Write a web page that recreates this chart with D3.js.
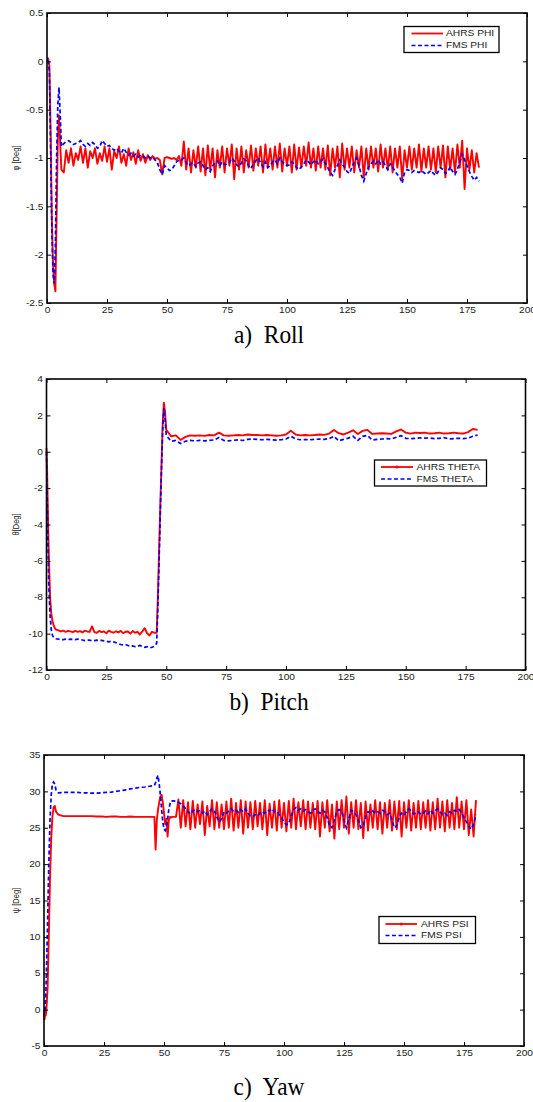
<!DOCTYPE html>
<html>
<head>
<meta charset="utf-8">
<script src="https://cdn.jsdelivr.net/npm/d3@7"></script>
<style>
  body { margin: 0; background: #fff; }
  svg { display: block; font-family: "Liberation Sans", Arial, sans-serif; }
</style>
</head>
<body>
<svg id="chart" width="533" height="1102"></svg>
<script>
// ---- data (time in s, angles in deg) ----
var xTicks = [0, 25, 50, 75, 100, 125, 150, 175, 200];
var rollTicks = [-2.5, -2, -1.5, -1, -0.5, 0, 0.5];
var pitchTicks = [-12, -10, -8, -6, -4, -2, 0, 2, 4];
var yawTicks = [-5, 0, 5, 10, 15, 20, 25, 30, 35];

// roll
var tRoll = [0, 0.5, 1, 1.5, 2, 2.5, 3, 3.5, 4, 4.5, 5, 5.5, 6].concat(d3.range(7, 181));
var rollAhrs = [0.03, 0.03, -0.05, -0.7, -1.6, -2.1, -2.3, -2.38, -1.6, -0.8, -0.56, -0.85, -1.12,
  -1.15, -0.92, -1.05, -0.9, -1.08, -0.95, -1.02, -0.88, -1.05, -0.9,
  -1.1, -0.93, -1.0, -0.9, -1.06, -0.95, -1.03, -0.88, -1.04, -0.9,
  -1.12, -0.93, -1.0, -0.88, -1.05, -0.96, -1.08, -0.9, -1.02, -0.94,
  -1.06, -0.92, -1.03, -0.96, -1.05, -0.97, -1.02, -0.98, -1.01,
  -1.0, -1.02, -1.17, -1.0, -0.99, -1.0, -1.01, -1.0, -1.02, -0.98,
  -1.08, -0.83, -1.12, -0.9, -1.15, -0.92, -1.1, -0.88, -1.14, -0.9,
  -1.18, -0.87, -1.12, -0.9, -1.2, -0.92, -1.1, -0.88, -1.15, -0.9,
  -1.08, -0.86, -1.22, -0.9, -1.12, -0.88, -1.15, -0.92, -1.1, -0.87,
  -1.13, -0.9, -1.08, -0.88, -1.15, -0.86, -1.1, -0.9, -1.12, -0.88,
  -1.1, -0.85, -1.14, -0.9, -1.08, -0.88, -1.15, -0.86, -1.12, -0.89,
  -1.1, -0.88, -1.08, -0.84, -1.1, -0.9, -1.13, -0.88, -1.1, -0.9,
  -1.12, -0.87, -1.18, -0.9, -1.1, -0.88, -1.2, -0.85, -1.12, -0.9,
  -1.1, -0.88, -1.15, -0.92, -1.1, -0.88, -1.2, -0.9, -1.12, -0.88,
  -1.1, -0.9, -1.14, -0.86, -1.1, -0.9, -1.12, -0.88, -1.15, -0.9,
  -1.1, -0.88, -1.22, -0.92, -1.1, -0.88, -1.12, -0.9, -1.1, -0.86,
  -1.14, -0.9, -1.1, -0.88, -1.12, -0.9, -1.15, -0.88, -1.1, -0.87,
  -1.2, -0.88, -1.12, -0.9, -1.15, -0.86, -1.1, -0.82, -1.32, -0.9,
  -1.12, -0.92, -1.15, -0.95, -1.1];
var rollFms = [0, 0, -0.1, -0.9, -1.7, -2.2, -2.3, -1.9, -1.0, -0.45, -0.27, -0.55, -0.88,
  -0.85, -0.83, -0.82, -0.84, -0.86, -0.85, -0.84, -0.82, -0.86, -0.88,
  -0.85, -0.87, -0.84, -0.86, -0.9, -0.88, -0.82, -0.85, -0.88, -0.87,
  -0.9, -0.92, -0.9, -0.93, -0.95, -0.9, -0.94, -0.97, -0.95, -0.98,
  -0.96, -0.99, -0.97, -0.98, -1.0, -0.98, -1.0, -0.99, -1.02,
  -1.05, -1.12, -1.17, -1.08, -1.1, -1.13, -1.12, -1.08, -1.04, -1.02,
  -1.02, -1.0, -1.05, -1.08, -1.06, -1.05, -1.09, -1.05, -1.04, -1.08,
  -1.12, -1.1, -1.14, -1.08, -1.05, -1.03, -1.08, -1.04, -1.07, -1.06,
  -1.05, -1.0, -1.03, -1.07, -1.09, -1.05, -1.01, -1.03, -1.08, -1.11,
  -1.06, -1.03, -1.0, -1.05, -1.09, -1.04, -1.1, -1.08, -1.04, -1.02,
  -1.06, -1.0, -1.04, -1.06, -1.08, -1.07, -1.04, -1.06, -1.1, -1.12,
  -1.09, -1.06, -1.02, -1.04, -1.07, -1.04, -1.02, -1.06, -1.04, -1.01,
  -1.06, -1.1, -1.15, -1.18, -1.12, -1.08, -1.02, -1.06, -1.1, -1.14,
  -1.16, -1.1, -1.04, -1.0, -1.08, -1.18, -1.24, -1.16, -1.09, -1.06,
  -1.03, -1.06, -1.02, -1.06, -1.04, -1.08, -1.12, -1.06, -1.09, -1.14,
  -1.17, -1.2, -1.26, -1.15, -1.12, -1.13, -1.15, -1.13, -1.14, -1.15,
  -1.13, -1.15, -1.17, -1.15, -1.13, -1.16, -1.18, -1.14, -1.1, -1.12,
  -1.16, -1.14, -1.09, -1.14, -1.17, -1.12, -1.04, -0.96, -1.02, -1.08,
  -1.14, -1.19, -1.23, -1.2, -1.24];

// pitch
var tPitch = [0, 0.25, 0.5, 0.75, 1, 1.5, 2, 2.5, 3, 3.5, 4]
  .concat(d3.range(5, 46))
  .concat([45.5, 46, 46.5, 47, 47.5, 48, 48.5, 49, 49.5])
  .concat(d3.range(50, 181, 2));
var pitchAhrs = [0.2, -1.0, -2.8, -4.5, -5.8, -8.0, -8.9, -9.3, -9.55, -9.7, -9.78,
  -9.82, -9.88, -9.84, -9.9, -9.85, -9.88, -9.92, -9.85, -9.9, -9.86,
  -9.93, -9.84, -9.88, -9.9, -9.6, -9.92, -9.95, -9.85, -9.92, -9.88,
  -9.98, -9.84, -9.9, -9.95, -9.87, -9.93, -9.85, -9.97, -9.9, -9.88,
  -10.0, -9.86, -9.95, -9.9, -10.05, -9.88, -9.7, -9.98, -10.1, -9.9,
  -9.95,
  -9.95, -9.95, -8.0, -5.5, -3.0, -0.8, 1.5, 2.7, 2.2,
  1.2, 0.85, 0.9, 0.65, 0.82, 0.9, 0.88, 0.9, 0.87, 0.92,
  0.9, 1.05, 0.9, 0.88, 0.9, 0.92, 0.9, 0.95, 0.92, 0.93,
  0.9, 0.92, 0.9, 0.88, 0.9, 0.95, 1.15, 0.95, 0.9, 0.92,
  0.9, 0.92, 0.95, 0.93, 1.0, 1.2, 1.02, 0.95, 1.05, 1.18,
  0.98, 1.15, 1.2, 0.98, 1.0, 1.02, 1.0, 0.98, 1.12, 1.22,
  1.05, 1.0, 1.05, 1.03, 1.05, 1.0, 1.02, 1.05, 1.0, 1.02,
  1.05, 1.02, 1.0, 1.08, 1.25, 1.2];
var pitchFms = [0.0, -2.0, -4.2, -6.0, -7.5, -9.0, -9.8, -10.1, -10.2, -10.25, -10.28,
  -10.3, -10.32, -10.33, -10.3, -10.33, -10.3, -10.32, -10.33, -10.3, -10.32,
  -10.35, -10.38, -10.36, -10.35, -10.4, -10.38, -10.36, -10.38, -10.37, -10.4,
  -10.42, -10.45, -10.42, -10.45, -10.5, -10.55, -10.6, -10.62, -10.6, -10.65,
  -10.7, -10.68, -10.72, -10.7, -10.65, -10.7, -10.75, -10.72, -10.78, -10.75,
  -10.7,
  -10.6, -10.55, -8.5, -6.0, -3.5, -1.0, 1.2, 2.4, 1.8,
  0.9, 0.58, 0.62, 0.45, 0.58, 0.62, 0.6, 0.62, 0.6, 0.63,
  0.65, 0.78, 0.62, 0.6, 0.63, 0.65, 0.62, 0.68, 0.7, 0.68,
  0.66, 0.68, 0.66, 0.64, 0.66, 0.7, 0.85, 0.7, 0.66, 0.67,
  0.66, 0.68, 0.7, 0.68, 0.72, 0.85, 0.6, 0.68, 0.75, 0.85,
  0.62, 0.85, 0.9, 0.65, 0.68, 0.7, 0.72, 0.7, 0.8, 0.88,
  0.74, 0.72, 0.74, 0.76, 0.75, 0.76, 0.72, 0.74, 0.78, 0.7,
  0.72, 0.74, 0.72, 0.75, 0.85, 0.92];

// yaw
var tYaw = [0, 0.25, 0.5, 0.75, 1, 1.5, 2, 2.5, 3, 3.5, 4, 4.5, 5]
  .concat(d3.range(6, 47, 2))
  .concat([46.5, 47, 47.5, 48, 48.5, 49, 49.5, 50, 50.5, 51, 51.5, 52, 52.5, 53, 53.5])
  .concat(d3.range(54, 181));
var yawAhrs = [-0.5, -1.3, 0.2, -0.8, 0.0, 3.0, 10.0, 18.0, 23.5, 26.5, 27.8, 28.0, 27.2,
  26.8, 26.6, 26.6, 26.6, 26.6, 26.6, 26.6, 26.6, 26.55, 26.55, 26.5,
  26.55, 26.55, 26.5, 26.5, 26.55, 26.5, 26.5, 26.5, 26.5, 26.5,
  22.0, 26.0, 27.5, 28.5, 29.3, 29.5, 28.5, 27.0, 25.5, 26.2, 23.8, 26.0, 26.5, 26.4, 26.5,
  26.5, 26.5, 28.9, 25.0, 28.8, 25.2, 28.5, 24.8, 28.7, 25.0,
  28.2, 25.5, 28.6, 24.0, 28.0, 25.2, 28.8, 24.8, 28.5, 25.0,
  28.2, 24.8, 28.6, 25.0, 29.0, 24.6, 28.4, 25.0, 28.8, 24.2,
  28.6, 25.0, 28.5, 24.8, 28.7, 25.2, 28.4, 24.8, 28.8, 24.0,
  28.3, 25.0, 28.6, 24.6, 28.8, 25.0, 28.4, 24.5, 28.7, 25.0,
  29.0, 24.8, 28.5, 25.2, 28.8, 24.8, 28.6, 25.0, 28.4, 24.8,
  28.7, 23.8, 28.5, 25.0, 28.8, 24.5, 28.2, 23.5, 28.6, 24.8,
  28.8, 25.0, 29.3, 24.2, 28.5, 25.0, 28.8, 24.8, 28.4, 23.6,
  28.6, 24.6, 28.2, 25.0, 28.8, 24.8, 28.5, 24.2, 28.4, 25.0,
  28.8, 24.6, 28.6, 24.8, 28.7, 23.8, 28.5, 25.0, 28.8, 24.6,
  28.4, 25.0, 28.7, 24.8, 28.5, 25.0, 28.8, 24.6, 28.5, 24.8,
  29.0, 25.0, 28.6, 24.5, 28.8, 25.0, 28.4, 24.8, 29.2, 25.0,
  28.6, 24.8, 28.8, 24.0, 27.5, 23.8, 28.8];
var yawFms = [0.0, -0.5, 0.5, 2.0, 5.0, 12.0, 20.0, 26.0, 29.5, 31.0, 31.3, 31.0, 30.2,
  29.8, 29.85, 29.85, 29.85, 29.85, 29.8, 29.8, 29.75, 29.75, 29.8, 29.85,
  29.9, 30.0, 30.1, 30.2, 30.35, 30.45, 30.55, 30.6, 30.7, 30.8,
  31.2, 31.8, 32.2, 31.0, 29.5, 27.5, 25.8, 24.8, 24.6, 25.2, 26.2, 27.5, 28.3, 28.7, 28.7,
  28.7, 28.6, 28.5, 28.3, 28.0, 27.6, 27.2, 26.9, 27.3, 27.5,
  27.2, 27.4, 27.0, 27.3, 26.8, 27.2, 27.6, 27.3, 26.5, 25.8,
  26.2, 27.2, 27.0, 27.3, 27.6, 27.2, 27.4, 27.1, 27.5, 27.2,
  27.6, 27.0, 26.6, 26.5, 26.8, 26.6, 27.0, 27.2, 27.0, 27.4,
  27.3, 27.6, 27.2, 27.3, 26.8, 26.4, 25.8, 25.4, 25.6, 26.6,
  27.5, 27.8, 27.4, 27.6, 27.3, 27.5, 27.2, 27.0, 27.4, 27.6,
  27.3, 27.0, 27.4, 27.2, 26.4, 25.2, 25.0, 26.0, 27.3, 27.5,
  27.3, 26.0, 25.0, 26.2, 27.4, 27.2, 26.8, 26.0, 25.0, 25.2,
  26.5, 27.2, 27.0, 27.3, 27.0, 27.2, 27.0, 27.4, 27.2, 26.8,
  27.0, 26.0, 25.0, 25.3, 26.5, 27.0, 26.7, 27.2, 27.6, 27.3,
  26.9, 27.0, 27.2, 26.8, 27.0, 27.3, 26.9, 27.4, 27.0, 27.3,
  27.6, 27.2, 26.8, 27.0, 26.7, 27.2, 27.0, 27.4, 27.2, 27.5,
  27.0, 26.4, 25.8, 25.2, 24.8, 25.5, 26.8];

// ---- drawing ----
var svg = d3.select("#chart");
var SX = 1.2;   // the axes text in the figure is stretched sideways
var RED = "#ff0000", BLUE = "#0000ff";

var panels = [
  { left: 47, right: 527, top: 13, bottom: 303, yDomain: [-2.5, 0.5], yTicks: rollTicks,
    t: tRoll, ahrs: rollAhrs, fms: rollFms, yLabel: "\u03c6 [Deg]",
    names: ["AHRS PHI", "FMS PHI"], dot: false,
    legend: { x: 404, y: 26.5, w: 95, h: 26, lx1: 411.5, lx2: 443, tx: 446, rows: [33.5, 45.5] },
    caption: "a)\u00a0 Roll", capY: 343 },
  { left: 46.5, right: 525.5, top: 379, bottom: 670, yDomain: [-12, 4], yTicks: pitchTicks,
    t: tPitch, ahrs: pitchAhrs, fms: pitchFms, yLabel: "\u03b8[Deg]",
    names: ["AHRS THETA", "FMS THETA"], dot: true,
    legend: { x: 374.5, y: 460, w: 112, h: 26, lx1: 381, lx2: 413, tx: 416.5, rows: [467, 479] },
    caption: "b)\u00a0 Pitch", capY: 710 },
  { left: 44, right: 524, top: 755, bottom: 1046, yDomain: [-5, 35], yTicks: yawTicks,
    t: tYaw, ahrs: yawAhrs, fms: yawFms, yLabel: "\u03c8 [Deg]",
    names: ["AHRS PSI", "FMS PSI"], dot: true,
    legend: { x: 379, y: 916.5, w: 96.5, h: 27, lx1: 385.5, lx2: 417, tx: 421, rows: [924, 935.5] },
    caption: "c)\u00a0 Yaw", capY: 1095 }
];

function widen(sel) {
  sel.attr("transform", function () {
    var x = +d3.select(this).attr("x") || 0;
    return "translate(" + x + ",0) scale(" + SX + ",1) translate(" + (-x) + ",0)";
  });
}

function drawPanel(p) {
  var x = d3.scaleLinear().domain([0, 200]).range([p.left, p.right]);
  var y = d3.scaleLinear().domain(p.yDomain).range([p.bottom, p.top]);
  var g = svg.append("g");
  var line = d3.line().x(function (d) { return x(d[0]); }).y(function (d) { return y(d[1]); });
  var fmt = function (d) { return String(d); };

  g.append("path").datum(d3.zip(p.t, p.ahrs)).attr("d", line)
    .attr("fill", "none").attr("stroke", RED).attr("stroke-width", 1.9)
    .attr("stroke-linejoin", "round");
  g.append("path").datum(d3.zip(p.t, p.fms)).attr("d", line)
    .attr("fill", "none").attr("stroke", BLUE).attr("stroke-width", 1.7)
    .attr("stroke-dasharray", "4,2.5");

  var axes = [
    g.append("g").attr("transform", "translate(0," + p.bottom + ")")
      .call(d3.axisBottom(x).tickValues(xTicks).tickSizeInner(-4).tickSizeOuter(0).tickPadding(4).tickFormat(fmt)),
    g.append("g").attr("transform", "translate(" + p.left + ",0)")
      .call(d3.axisLeft(y).tickValues(p.yTicks).tickSizeInner(-4).tickSizeOuter(0).tickPadding(3.5).tickFormat(fmt)),
    g.append("g").attr("transform", "translate(0," + p.top + ")")
      .call(d3.axisTop(x).tickValues(xTicks).tickSizeInner(-4).tickSizeOuter(0).tickFormat("")),
    g.append("g").attr("transform", "translate(" + p.right + ",0)")
      .call(d3.axisRight(y).tickValues(p.yTicks).tickSizeInner(-4).tickSizeOuter(0).tickFormat(""))
  ];
  axes.forEach(function (a) {
    a.attr("font-family", null).attr("font-size", 8.5);
    a.select(".domain").remove();
    a.selectAll(".tick line").attr("stroke", "#000").attr("stroke-width", 1);
    a.selectAll(".tick text").attr("fill", "#222").call(widen);
  });

  g.append("rect").attr("x", p.left).attr("y", p.top)
    .attr("width", p.right - p.left).attr("height", p.bottom - p.top)
    .attr("fill", "none").attr("stroke", "#000").attr("stroke-width", 1.6);

  g.append("text")
    .attr("transform", "translate(15.5," + ((p.top + p.bottom) / 2) + ") scale(" + SX + ",1) rotate(-90)")
    .attr("text-anchor", "middle").attr("dy", "0.35em")
    .attr("font-size", 7.5).attr("fill", "#222").text(p.yLabel);

  // legend
  var L = p.legend;
  var lg = g.append("g");
  lg.append("rect").attr("x", L.x).attr("y", L.y).attr("width", L.w).attr("height", L.h)
    .attr("fill", "#fff").attr("stroke", "#000").attr("stroke-width", 1.3);
  [RED, BLUE].forEach(function (c, i) {
    var ry = L.rows[i];
    var ln = lg.append("line").attr("x1", L.lx1).attr("x2", L.lx2).attr("y1", ry).attr("y2", ry)
      .attr("stroke", c).attr("stroke-width", c === RED ? 1.8 : 1.7);
    if (c === BLUE) ln.attr("stroke-dasharray", "4,2.5");
    if (c === RED && p.dot) {
      lg.append("circle").attr("cx", (L.lx1 + L.lx2) / 2).attr("cy", ry).attr("r", 1.6).attr("fill", RED);
    }
    lg.append("text")
      .attr("transform", "translate(" + L.tx + "," + ry + ") scale(" + SX + ",1)")
      .attr("dy", "0.35em").attr("font-size", 8.5).attr("fill", "#222").text(p.names[i]);
  });

  svg.append("text")
    .attr("transform", "translate(269," + p.capY + ") scale(0.9,1)")
    .attr("text-anchor", "middle")
    .attr("font-family", "'Liberation Serif', 'Times New Roman', serif")
    .attr("font-size", 26).attr("fill", "#000").text(p.caption);
}

panels.forEach(drawPanel);
</script>
</body>
</html>
